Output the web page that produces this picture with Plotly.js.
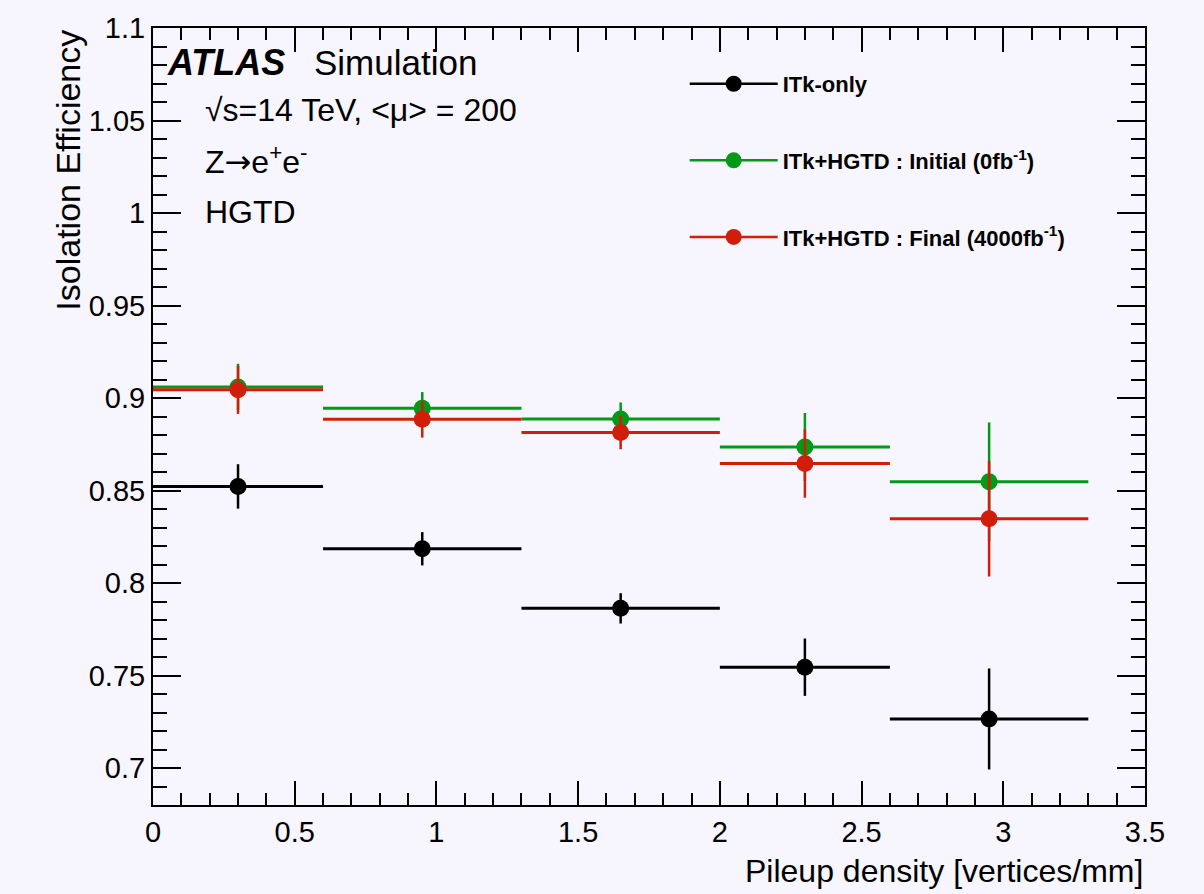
<!DOCTYPE html>
<html>
<head>
<meta charset="utf-8">
<script src="https://cdn.plot.ly/plotly-3.0.1.min.js"></script>
<style>html,body{margin:0;padding:0;background:#f7f5fd;}</style>
</head>
<body>
<div id="chart" style="width:1204px;height:894px;"></div>
<script>
// Bin definitions (pileup density, vertices/mm)
const binLow    = [0.0, 0.6, 1.3, 2.0, 2.6];
const binHigh   = [0.6, 1.3, 2.0, 2.6, 3.3];
const binCenter = [0.3, 0.95, 1.65, 2.3, 2.95];

// Isolation efficiency values and statistical uncertainties
const itkOnly      = [0.8522, 0.8185, 0.7863, 0.7545, 0.7265];
const itkOnlyErr   = [0.0120, 0.0090, 0.0082, 0.0155, 0.0273];
const hgtdInitial    = [0.9060, 0.8945, 0.8886, 0.8735, 0.8547];
const hgtdInitialErr = [0.0125, 0.0087, 0.0090, 0.0184, 0.0321];
const hgtdFinal      = [0.9044, 0.8885, 0.8813, 0.8646, 0.8347];
const hgtdFinalErr   = [0.0130, 0.0099, 0.0090, 0.0185, 0.0312];

const seriesNames = [
  'ITk-only',
  'ITk+HGTD : Initial (0fb<sup>-1</sup>)',
  'ITk+HGTD : Final (4000fb<sup>-1</sup>)'
];
const seriesColors = ['#000000', '#009a17', '#d01e0a'];
const xTitle = 'Pileup density [vertices/mm]';
const yTitle = 'Isolation Efficiency';

const xMinus = binCenter.map((c, i) => c - binLow[i]);
const xPlus  = binCenter.map((c, i) => binHigh[i] - c);

function dataTrace(y, err, color, name) {
  return {
    type: 'scatter', mode: 'markers', x: binCenter, y: y, name: name,
    showlegend: false,
    marker: {color: color, size: 17, symbol: 'circle'},
    error_x: {type: 'data', symmetric: false, array: xPlus, arrayminus: xMinus,
              color: color, thickness: 3, width: 0},
    error_y: {type: 'data', array: err, color: color, thickness: 2.5, width: 0}
  };
}
function legendTrace(color, name, i) {
  return {
    type: 'scatter', mode: 'lines+markers', x: [null], y: [null], name: name,
    legendgroup: 'g' + i, showlegend: true,
    marker: {color: color, size: 17}, line: {color: color, width: 2.5}
  };
}

const ys = [itkOnly, hgtdInitial, hgtdFinal];
const errs = [itkOnlyErr, hgtdInitialErr, hgtdFinalErr];
const traces = [];
for (let i = 0; i < 3; i++) traces.push(dataTrace(ys[i], errs[i], seriesColors[i], seriesNames[i]));
for (let i = 0; i < 3; i++) traces.push(legendTrace(seriesColors[i], seriesNames[i], i));

const F = 'Liberation Sans, Arial, Helvetica, sans-serif';
const axisCommon = {
  showgrid: false, zeroline: false, showline: true, linecolor: '#000', linewidth: 2,
  mirror: 'ticks', ticks: 'inside', tickcolor: '#000', tickwidth: 2,
  tickfont: {family: F, size: 29, color: '#000'}
};

const layout = {
  width: 1204, height: 894,
  paper_bgcolor: '#f7f5fd', plot_bgcolor: '#f7f5fd',
  margin: {l: 153, r: 59, t: 28, b: 89},
  showlegend: true,
  legend: {
    x: 0.536, y: 0.955, xanchor: 'left', yanchor: 'top',
    bgcolor: 'rgba(0,0,0,0)', borderwidth: 0,
    font: {family: F, size: 22, color: '#000', weight: 'bold'},
    tracegroupgap: 45, itemwidth: 88
  },
  xaxis: Object.assign({}, axisCommon, {
    range: [0, 3.5], dtick: 0.5, tick0: 0, ticklen: 24,
    minor: {dtick: 0.1, ticklen: 12, ticks: 'inside', tickcolor: '#000', tickwidth: 2, showgrid: false}
  }),
  yaxis: Object.assign({}, axisCommon, {
    range: [0.68, 1.1], dtick: 0.05, tick0: 0.7, ticklen: 28,
    minor: {dtick: 0.01, ticklen: 14, ticks: 'inside', tickcolor: '#000', tickwidth: 2, showgrid: false}
  }),
  annotations: [
    {xref: 'paper', yref: 'paper', x: 1.0, y: -0.085, xanchor: 'right', yanchor: 'middle', showarrow: false,
     text: xTitle, font: {family: F, size: 32, color: '#000'}},
    {xref: 'paper', yref: 'paper', x: -0.0865, y: 1.0, xanchor: 'center', yanchor: 'top', showarrow: false,
     textangle: -90, text: yTitle, font: {family: F, size: 34, color: '#000'}},
    {xref: 'paper', yref: 'paper', x: 0.012, y: 0.956, xanchor: 'left', yanchor: 'middle', showarrow: false,
     text: '<b><i>ATLAS</i></b>', font: {family: F, size: 36, color: '#000'}},
    {xref: 'paper', yref: 'paper', x: 0.160, y: 0.956, xanchor: 'left', yanchor: 'middle', showarrow: false,
     text: 'Simulation', font: {family: F, size: 35, color: '#000'}},
    {xref: 'paper', yref: 'paper', x: 0.050, y: 0.8945, xanchor: 'left', yanchor: 'middle', showarrow: false,
     text: '√s=14 TeV, &lt;μ&gt; = 200', font: {family: F, size: 32, color: '#000'}},
    {xref: 'paper', yref: 'paper', x: 0.050, y: 0.830, xanchor: 'left', yanchor: 'middle', showarrow: false,
     text: 'Z<span style="font-family:DejaVu Sans">→</span>e<sup>+</sup>e<sup>-</sup>', font: {family: F, size: 32, color: '#000'}},
    {xref: 'paper', yref: 'paper', x: 0.050, y: 0.763, xanchor: 'left', yanchor: 'middle', showarrow: false,
     text: 'HGTD', font: {family: F, size: 32, color: '#000'}}
  ]
};

Plotly.newPlot('chart', traces, layout, {displayModeBar: false, staticPlot: true});
</script>
</body>
</html>
